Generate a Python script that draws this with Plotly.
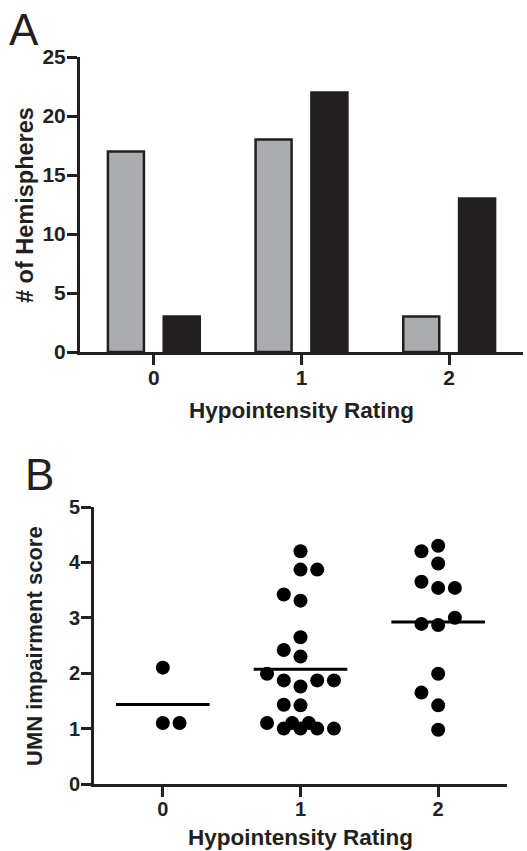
import plotly.graph_objects as go

# ---------------- data ----------------
ratings = [0, 1, 2]
rating_labels = ["0", "1", "2"]

# Panel A: number of hemispheres per hypointensity rating
hemis_gray = [17, 18, 3]
hemis_black = [3, 22, 13]

# Panel B: UMN impairment score per hypointensity rating
umn_rating0 = [2.10, 1.10, 1.10]
umn_rating1 = [4.20, 3.87, 3.87, 3.42, 3.31, 2.65, 2.42, 2.30, 1.99, 1.87, 1.87,
               1.87, 1.76, 1.43, 1.42, 1.10, 1.10, 1.10, 1.00, 1.00, 1.00, 1.00]
umn_rating2 = [4.30, 4.20, 3.98, 3.65, 3.54, 3.54, 3.00, 2.89, 2.87, 1.99, 1.65,
               1.42, 0.98]
umn_groups = [umn_rating0, umn_rating1, umn_rating2]

a_yticks = [0, 5, 10, 15, 20, 25]
b_yticks = [0, 1, 2, 3, 4, 5]

# ---------------- layout constants ----------------
W, H = 527, 851
FONT = "Liberation Sans, Arial, Helvetica, sans-serif"
INK = "#231f20"
GRAY = "#abacb0"

A_X = (80, 523)
A_Y = (57, 352)      # top, bottom in px
B_X = (94, 507)
B_Y = (507, 784)
XR = [-0.5, 2.5]


def dom_x(p):
    return [p[0] / W, p[1] / W]


def dom_y(p):
    return [1 - p[1] / H, 1 - p[0] / H]


# ---------------- beeswarm placement (computed from values) ----------------
STEP = 0.1215             # horizontal slot width in data units
MARKER = 14
px_per_x = (B_X[1] - B_X[0]) / (XR[1] - XR[0])
px_per_y = (B_Y[1] - B_Y[0]) / (b_yticks[-1] - b_yticks[0])


def swarm(values, dx_lim=8.8, dy_lim=14.0, kmax=2):
    order = sorted(range(len(values)), key=lambda i: values[i])
    placed = []
    offs = [0.0] * len(values)
    for i in order:
        v = values[i]
        tie = any(pv == v for _, pv in placed)
        s = 1 if tie else -1
        ints = [0] + [sg * k for k in range(1, kmax + 1) for sg in (s, -s)]
        halves = [sg * (k - 0.5) for k in range(1, 6) for sg in (s, -s)]
        more = [sg * k for k in range(kmax + 1, 7) for sg in (s, -s)]
        chosen = 0
        for cand in ints + halves + more:
            ok = True
            for ps, pv in placed:
                dx = (cand - ps) * STEP * px_per_x
                dy = (v - pv) * px_per_y
                if (dx / dx_lim) ** 2 + (dy / dy_lim) ** 2 < 1:
                    ok = False
                    break
            if ok:
                chosen = cand
                break
        placed.append((chosen, v))
        offs[i] = chosen * STEP
    return offs


fig = go.Figure()

# ---------------- Panel A bars ----------------
fig.add_trace(go.Bar(x=ratings, y=hemis_gray, marker=dict(color=GRAY, line=dict(color=INK, width=2.5)),
                     xaxis="x", yaxis="y", showlegend=False, hoverinfo="skip"))
fig.add_trace(go.Bar(x=ratings, y=hemis_black, marker=dict(color=INK, line=dict(color=INK, width=2.5)),
                     xaxis="x", yaxis="y", showlegend=False, hoverinfo="skip"))

# ---------------- Panel B scatter ----------------
HALF = 0.34
for r, vals in zip(ratings, umn_groups):
    offs = swarm(vals)
    fig.add_trace(go.Scatter(x=[r + o for o in offs], y=vals, mode="markers",
                             marker=dict(color="black", size=MARKER, line=dict(width=0)),
                             xaxis="x2", yaxis="y2", showlegend=False, cliponaxis=False,
                             hoverinfo="skip"))
    m = sum(vals) / len(vals)
    fig.add_trace(go.Scatter(x=[r - HALF, r + HALF], y=[m, m], mode="lines",
                             line=dict(color="black", width=3),
                             xaxis="x2", yaxis="y2", showlegend=False, hoverinfo="skip"))

axis_common = dict(showgrid=False, zeroline=False, showline=True, linecolor=INK, linewidth=3,
                   ticks="outside", ticklen=10, tickwidth=3, tickcolor=INK, fixedrange=True,
                   automargin=False)

tickfontA = dict(family=FONT, size=21, color=INK, weight="bold")
tickfontB = dict(family=FONT, size=20, color=INK, weight="bold")

fig.update_layout(
    template="none",
    width=W, height=H, autosize=False,
    margin=dict(l=0, r=0, t=0, b=0, pad=0),
    paper_bgcolor="white", plot_bgcolor="white",
    barmode="group", bargap=0.244, bargroupgap=0.355,
    xaxis=dict(domain=dom_x(A_X), anchor="y", range=XR, tickvals=ratings, ticktext=rating_labels,
               tickfont=tickfontA, ticklabelstandoff=-5, **axis_common),
    yaxis=dict(domain=dom_y(A_Y), anchor="x", range=[0, 25], tickvals=a_yticks,
               tickfont=tickfontA, ticklabelstandoff=-3, **axis_common),
    xaxis2=dict(domain=dom_x(B_X), anchor="y2", range=XR, tickvals=ratings, ticktext=rating_labels,
                tickfont=tickfontB, ticklabelstandoff=-5, **axis_common),
    yaxis2=dict(domain=dom_y(B_Y), anchor="x2", range=[0, 5], tickvals=b_yticks,
                tickfont=tickfontB, ticklabelstandoff=-3, **axis_common),
)


def ann(text, x, y, size, bold=True, angle=0, xanchor="center"):
    fig.add_annotation(text=text, x=x / W, y=1 - y / H, xref="paper", yref="paper",
                       xanchor=xanchor, yanchor="middle", showarrow=False, textangle=angle,
                       font=dict(family=FONT, size=size, color=INK, weight="bold" if bold else "normal"))


ann("A", 7, 29, 44, bold=False, xanchor="left")
ann("B", 23, 474, 44, bold=False, xanchor="left")
ann("# of Hemispheres", 25, 205, 23.5, angle=-90)
ann("Hypointensity Rating", (A_X[0] + A_X[1]) / 2, 411, 22.5)
ann("UMN impairment score", 34, 646, 22, angle=-90)
ann("Hypointensity Rating", (B_X[0] + B_X[1]) / 2, 837, 22.5)

fig.write_html("out.html", config={"displayModeBar": False, "staticPlot": True},
               post_script="document.body.style.margin='0';document.body.style.overflow='hidden';")
